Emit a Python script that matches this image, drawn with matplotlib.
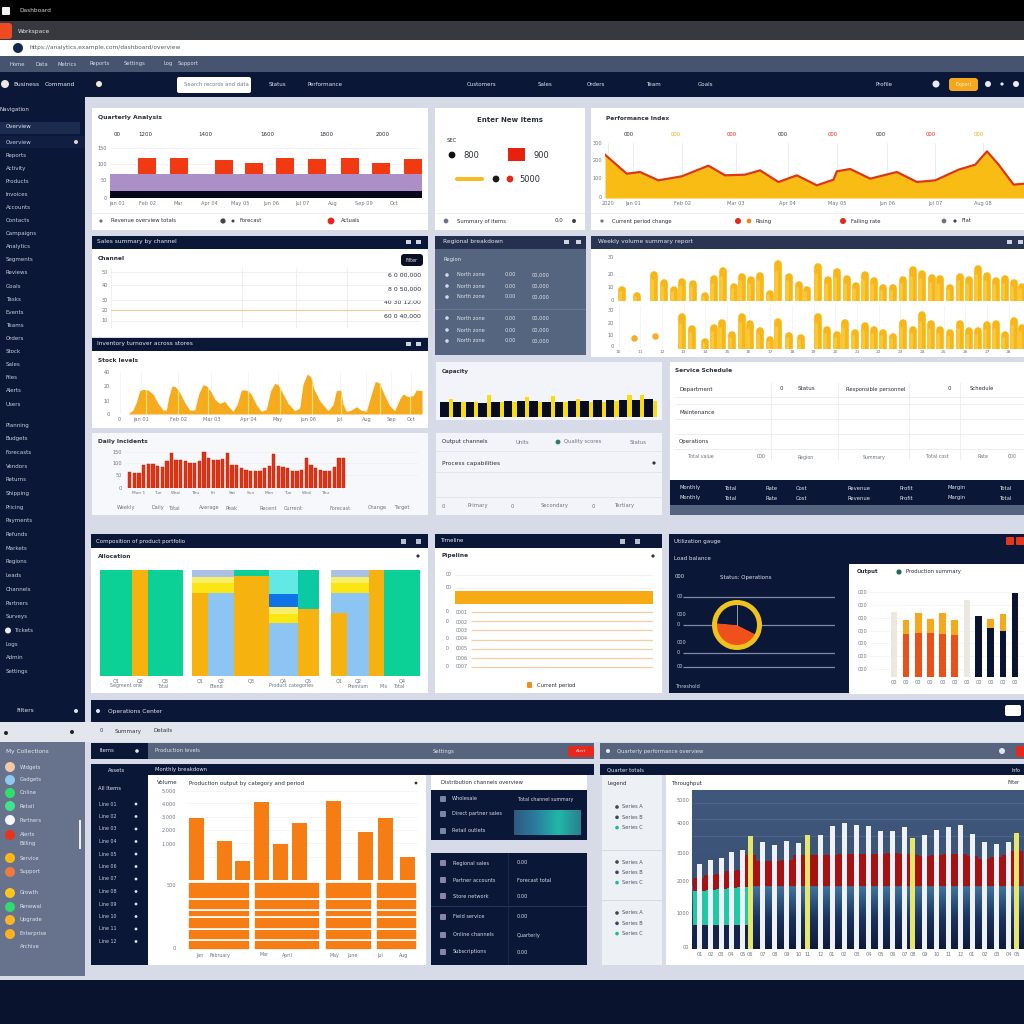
import numpy as np
import matplotlib
matplotlib.use("Agg")
import matplotlib.pyplot as plt
from matplotlib.patches import Rectangle, FancyBboxPatch, Circle
from matplotlib.colors import LinearSegmentedColormap

# --- data ---
top_x = [37, 69, 114, 144, 175, 207, 240, 271, 303]
top_red = [16, 16, 14, 11, 16, 15, 16, 11, 15]
top_black = 7
top_purple = 17
top_labels = ["Jan 01", "Feb 02", "Mar", "Apr 04", "May 05", "Jun 06", "Jul 07", "Aug", "Sep 09", "Oct"]

wave_x = [0, 65, 105, 160, 230, 310, 360, 420, 465, 520, 575, 635, 685, 695, 735, 795, 875, 935, 990, 1060, 1110, 1145, 1180, 1225, 1256]
wave_y = [130, 73, 78, 53, 65, 97, 68, 70, 83, 48, 68, 38, 55, 80, 87, 58, 78, 48, 53, 85, 100, 140, 100, 40, 43]
wave_ticks = [8, 85, 232, 392, 548, 695, 845, 990, 1133]
wave_labels = ["2020", "Jan 01", "Feb 02", "Mar 03", "Apr 04", "May 05", "Jun 06", "Jul 07", "Aug 08"]

gold1_x = [330, 375, 425, 457, 487, 511, 542, 580, 605, 632, 665, 690, 717, 745, 775, 798, 830, 862, 885, 918, 947, 976, 1004, 1033, 1058, 1086, 1114, 1142, 1172, 1204, 1229, 1260, 1285, 1315, 1343, 1370, 1398, 1424, 1452, 1480, 1507, 1530]
gold1_h = [30, 15, 72, 50, 30, 52, 47, 15, 60, 82, 40, 68, 58, 70, 20, 102, 68, 45, 30, 95, 58, 80, 60, 42, 72, 55, 36, 36, 58, 85, 75, 63, 60, 37, 68, 58, 90, 70, 55, 60, 50, 40]
gold2_x = [510, 541, 580, 605, 630, 660, 690, 714, 745, 775, 798, 830, 868, 918, 946, 975, 1000, 1030, 1058, 1086, 1114, 1142, 1172, 1204, 1229, 1258, 1285, 1315, 1343, 1370, 1398, 1424, 1452, 1480, 1507, 1530]
gold2_h = [90, 57, 20, 60, 75, 40, 92, 72, 50, 25, 78, 38, 32, 90, 55, 40, 75, 45, 65, 55, 45, 35, 75, 55, 97, 70, 55, 45, 70, 50, 50, 68, 70, 40, 80, 60]
blob_x = [365, 428]
blob_y = [32, 37]

flat_levels = [60, 46, 30, 19, 8]
flat_series = [19, 19, 19, 19, 19]

amber_x = [130, 145, 155, 165, 175, 190, 205, 220, 235, 245, 252, 262, 272, 285, 300, 315, 330, 342, 355, 365, 378, 392, 405, 420, 432, 445, 458, 470, 485, 498, 515, 530, 545, 558, 570, 580, 592, 610, 630, 645, 655, 668, 678, 688, 705, 730, 745, 755, 768, 775, 785, 800, 815, 828, 845, 860, 872, 885, 897, 915, 930, 945, 955, 970, 985, 995, 1012]
amber_y = [0, 12, 35, 70, 74, 72, 60, 32, 12, 12, 50, 84, 82, 65, 35, 12, 12, 60, 88, 85, 68, 42, 32, 38, 22, 8, 30, 72, 72, 62, 28, 8, 14, 70, 92, 88, 66, 32, 10, 18, 90, 120, 112, 75, 40, 10, 28, 70, 72, 30, 8, 12, 22, 12, 8, 60, 98, 92, 62, 25, 10, 45, 60, 52, 55, 72, 70]
amber_marks = [185, 280, 370, 490, 585, 683, 770, 885, 975]

red_h = [48, 45, 45, 68, 70, 70, 65, 62, 80, 105, 82, 82, 80, 75, 75, 80, 108, 88, 82, 82, 85, 105, 68, 68, 58, 55, 50, 50, 50, 58, 65, 100, 65, 62, 60, 52, 52, 55, 88, 68, 60, 55, 50, 50, 62, 90, 90]

black_h = [15, 15, 15, 14, 15, 16, 16, 16, 15, 15, 16, 16, 17, 17, 17, 17, 18]
yellow_h = [18, 15, 15, 22, 15, 15, 20, 15, 21, 15, 18, 15, 15, 16, 22, 22, 16]

mekko_w = [32, 16, 35, 9, 16, 26, 35, 29, 21, 12, 16, 22, 15, 36]
mekko_amber = [0, 318, 0, 0, 248, 0, 301, 0, 200, 0, 188, 0, 318, 0]
mekko_sky = [0, 0, 0, 0, 0, 248, 0, 158, 0, 0, 60, 248, 0, 0]
mekko_yellow = [0, 0, 0, 0, 30, 30, 0, 28, 0, 0, 30, 30, 0, 0]
mekko_pale = [0, 0, 0, 0, 20, 20, 0, 22, 0, 0, 20, 20, 0, 0]
mekko_blue = [0, 0, 0, 0, 0, 0, 0, 37, 0, 0, 0, 0, 0, 0]
mekko_cyan = [0, 0, 0, 0, 0, 0, 0, 73, 0, 0, 0, 0, 0, 0]
mekko_peri = [0, 0, 0, 0, 20, 20, 0, 0, 0, 0, 20, 20, 0, 0]
mekko_teal = [0, 0, 0, 0, 0, 0, 0, 0, 118, 0, 0, 0, 0, 0]
mekko_green = [318, 0, 318, 0, 0, 0, 17, 0, 0, 0, 0, 0, 0, 318]
mekko_labels = ["Q1", "Q2", "Q3", "", "Q1", "Q2", "Q3", "Q4", "Q5", "", "Q1", "Q2", "", "Q4"]

hbar_main = 100
hbar_rest = [100, 100, 100, 100, 100, 100, 100]
hbar_labels = ["0001", "0002", "0003", "0004", "0005", "0006", "0007"]

gauge_share = [44, 56]

col_pale = [195, 0, 0, 0, 0, 0, 230, 0, 0, 0, 0]
col_orange = [0, 128, 132, 132, 130, 125, 0, 0, 0, 0, 0]
col_navy = [0, 0, 0, 0, 0, 0, 0, 182, 147, 137, 250]
col_amber = [0, 42, 60, 40, 60, 45, 0, 0, 25, 52, 0]

orange_x = [333, 418, 472, 528, 585, 643, 747, 842, 902, 967]
orange_h = [187, 117, 58, 233, 107, 170, 237, 143, 187, 70]
block_left = [308, 508, 719, 873]
block_w = [188, 197, 142, 124]
block_rows = [29.5, 33.5, 33, 21.5, 32.5, 50]

col_x = [313, 345, 378, 408, 442, 465, 502, 539, 575, 611, 637, 675, 711, 747, 784, 820, 856, 892, 929, 952, 989, 1025, 1061, 1097, 1131, 1168, 1204, 1240, 1265]
col_h = [255, 267, 275, 291, 298, 340, 321, 312, 326, 320, 343, 343, 369, 378, 372, 369, 355, 356, 368, 335, 343, 358, 368, 374, 347, 322, 316, 322, 348]
col_marked = [5, 10, 19, 28]
band_top = [213, 221, 225, 235, 239, 283, 265, 265, 267, 283, 283, 283, 283, 285, 285, 285, 285, 288, 285, 283, 281, 283, 285, 285, 281, 271, 278, 283, 295]
teal_top = [173, 178, 181, 184, 186]
teal_base = 73

side_top = ["Overview", "Reports", "Activity", "Products", "Invoices", "Accounts", "Contacts", "Campaigns", "Analytics", "Segments", "Reviews", "Goals", "Tasks", "Events", "Teams", "Orders", "Stock", "Sales", "Files", "Alerts", "Users"]
side_low = ["Planning", "Budgets", "Forecasts", "Vendors", "Returns", "Shipping", "Pricing", "Payments", "Refunds", "Markets", "Regions", "Leads", "Channels", "Partners", "Surveys", "Tickets", "Logs", "Admin", "Settings"]
dot_colors = ["#f3c8a8", "#8ec8ee", "#2de06a", "#3fe58c", "#f4f6fa", "#e8341c", "#ffb712", "#f07a3a", "#ffc51a", "#30dc72", "#ffb428", "#ffb01e"]
dot_rows = [767, 780, 793, 806, 820, 835, 858, 872, 893, 907, 920, 934]
dot_names = ["Widgets", "Gadgets", "Online", "Retail", "Partners", "Alerts", "Service", "Support", "Growth", "Renewal", "Upgrade", "Enterprise"]

W, H = 1024, 1024
NAVY = "#0b1737"
SLATE = "#55657f"
BG = "#d6dbe7"
INK = "#2a2f3a"
GREY = "#6d7480"

fig = plt.figure(figsize=(W / 100, H / 100), dpi=100, facecolor=BG)
bg = fig.add_axes([0, 0, 1, 1], zorder=0)
bg.set_xlim(0, W)
bg.set_ylim(H, 0)
bg.axis("off")


def box(x0, y0, x1, y1, color):
    bg.add_patch(Rectangle((x0, y0), x1 - x0, y1 - y0, fc=color, ec="none"))


def pill(x0, y0, x1, y1, color, r=3):
    bg.add_patch(FancyBboxPatch((x0, y0), x1 - x0, y1 - y0, boxstyle=f"round,pad=0,rounding_size={r}", fc=color, ec="none"))


def dot(x, y, r, color):
    bg.add_patch(Circle((x, y), r, fc=color, ec="none"))


def t(x, y, s, color=INK, size=4.2, ha="left", weight="normal"):
    bg.text(x, y, s, color=color, fontsize=size, ha=ha, va="center", fontweight=weight)


def chart(x0, y0, x1, y1, zorder=2):
    ax = fig.add_axes([x0 / W, 1 - y1 / H, (x1 - x0) / W, (y1 - y0) / H], zorder=zorder)
    ax.patch.set_visible(False)
    for s in ax.spines.values():
        s.set_visible(False)
    ax.tick_params(length=0, labelsize=3.6, colors=GREY, pad=2)
    ax.set_xticks([])
    ax.set_yticks([])
    return ax


def soft_grid(ax, axis="y", color="#eceef2"):
    ax.grid(True, axis=axis, color=color, lw=0.5)
    ax.set_axisbelow(True)


# --- chrome ---
box(0, 0, W, 21, "#000000")
box(0, 21, W, 40, "#38393f")
box(0, 40, W, 56, "#ffffff")
box(0, 56, W, 72, "#47546f")
box(0, 72, W, 97, NAVY)
box(0, 72, 85, 700, NAVY)
box(0, 980, W, H, "#0a132e")
box(0, 700, 85, 722, NAVY)
box(0, 722, 85, 742, "#e3e6ec")
box(0, 742, 85, 976, "#67738c")
box(85, 722, W, 742, "#e3e6ec")

pill(2, 7, 10, 15, "#f2f2f2", 1)
t(19, 10, "Dashboard", "#d0d0d0", 4.2)
pill(-4, 23, 12, 39, "#ef4b22", 3)
t(18, 31, "Workspace", "#e4e4e4", 4.2)
dot(18, 48, 5, "#12294e")
t(30, 48, "https://analytics.example.com/dashboard/overview", "#555b66", 4.2)
for x, s in zip([9, 36, 58, 90, 124, 163, 178], ["Home", "Data", "Metrics", "Reports", "Settings", "Log", "Support"]):
    t(x, 64, s, "#d7dbe4", 3.8)
dot(5, 84, 4, "#f2e6e2")
t(13, 84.5, "Business", "#e6e9f0", 4.2)
t(45, 84.5, "Command", "#e6e9f0", 4.2)
dot(99, 84, 3, "#f4e8d8")
pill(177, 77, 251, 93, "#ffffff", 2)
t(184, 85, "Search records and data", "#767c88", 3.8)
for x, s in zip([269, 307, 467, 538, 587, 646, 698, 876], ["Status", "Performance", "Customers", "Sales", "Orders", "Team", "Goals", "Profile"]):
    t(x, 84.5, s, "#e2e6ee", 4.0)
pill(949, 78, 978, 91, "#f5a81c", 3)
t(963.5, 84.5, "Export", "#fff2d0", 3.6, ha="center")
for x, r in zip([936, 988, 1002, 1016], [3.5, 3, 1.6, 3]):
    dot(x, 84, r, "#e8ebf2")

t(0, 110, "Navigation", "#d6dbe6", 4.0)
box(0, 122, 80, 134, "#1c2c50")
t(6, 127, "Overview", "#e2e6ee", 4.0)
box(0, 136, 85, 148, "#101e42")
dot(76, 142, 2, "#e6d5cc")
for i, s in enumerate(side_top):
    t(6, 142 + i * 13.1, s, "#c8cedc", 4.0)
for i, s in enumerate(side_low):
    t(14 if s == "Tickets" else 6, 425 + i * 13.7, s, "#c8cedc", 4.0)
dot(8, 425 + 15 * 13.7, 3, "#e8ecf2")

t(16, 711, "Filters", "#dfe3ea", 4.2)
dot(76, 711, 2, "#dfe3ea")
dot(6, 733, 2, "#222")
dot(72, 732, 2, "#222")
t(6, 752, "My Collections", "#e6e9f0", 4.2)
for y, c, s in zip(dot_rows, dot_colors, dot_names):
    dot(10, y, 5, c)
    t(20, y, s, "#dfe3ea", 3.8)
t(20, 844, "Billing", "#dfe3ea", 3.8)
t(20, 946, "Archive", "#dfe3ea", 3.8)
box(79, 820, 81, 849, "#eef0f5")

# --- row 1 panels ---
box(92, 108, 428, 230, "#ffffff")
box(435, 108, 585, 230, "#ffffff")
box(591, 108, 1024, 230, "#ffffff")
box(92, 213, 428, 214, "#eceef2")
box(435, 213, 585, 214, "#eceef2")
box(591, 213, 1024, 214, "#eceef2")
t(98, 118, "Quarterly Analysis", INK, 4.4, weight="bold")
for x, s in zip([114, 138, 198, 260, 319, 376], ["00", "1200", "1400", "1600", "1800", "2000"]):
    t(x, 134, s, INK, 4.0)
dot(101, 221, 1.6, GREY)
t(111, 221, "Revenue overview totals", INK, 3.8)
dot(223, 221, 2.6, "#444")
dot(233, 221, 1.5, "#444")
t(240, 221, "Forecast", INK, 3.8)
dot(331, 221, 3.4, "#e8261c")
t(341, 221, "Actuals", INK, 3.8)
t(510, 120, "Enter New Items", INK, 5.0, ha="center", weight="bold")
t(447, 140, "SEC", INK, 3.8)
dot(452, 155, 3.4, "#111")
t(463, 155, "800", INK, 6.0)
box(508, 148, 525, 161, "#e8200e")
t(534, 155, "900", INK, 6.0)
pill(455, 177, 484, 181, "#f7bb23", 2)
dot(496, 179, 3.4, "#1b1b1b")
dot(510, 179, 3.4, "#e8261c")
t(519, 179, "5000", INK, 6.0)
dot(446, 221, 2.4, GREY)
t(457, 221, "Summary of items", INK, 3.8)
t(555, 221, "0.0", INK, 4.0)
dot(574, 221, 2, "#444")

t(606, 118, "Performance Index", INK, 4.2, weight="bold")
for x, s, c in zip([634, 681, 737, 788, 838, 886, 936, 984], ["000", "000", "000", "000", "000", "000", "000", "000"], [INK, "#f0a81c", "#e8261c", INK, "#e8261c", INK, "#e8261c", "#f0a81c"]):
    t(x - 10, 135, s, c, 3.8)
dot(602, 221, 1.6, GREY)
t(612, 221, "Current period change", INK, 3.8)
dot(738, 221, 3, "#e8261c")
dot(749, 221, 2.4, "#e68a1e")
t(756, 221, "Rising", INK, 3.8)
dot(843, 221, 3, "#e8261c")
t(851, 221, "Falling rate", INK, 3.8)
dot(944, 221, 2.4, GREY)
dot(955, 221, 1.6, "#444")
t(962, 221, "Flat", INK, 3.8)

ax = chart(110, 143, 422, 198)
ax.axhspan(0, top_black, color="#07081c", lw=0)
ax.axhspan(top_black, top_black + top_purple, color="#ad8fc8", lw=0)
ax.bar(top_x, top_red, bottom=top_black + top_purple, width=18, color="#f23a12")
ax.set_xlim(0, 312)
ax.set_ylim(0, 55)
ax.set_yticks([0, 18, 34, 50], ["0", "50", "100", "150"])
soft_grid(ax)
ax = chart(114, 198, 422, 208)
ax.set_xlim(0, 10)
ax.set_xticks(np.arange(10) + 0.1, top_labels)
ax.set_yticks([])
ax.xaxis.set_ticks_position("top")
ax.xaxis.set_label_position("top")
ax.tick_params(pad=-6)

ax = chart(605, 143, 1024, 198)
ax.fill_between(wave_x, wave_y, color="#f8bc14", lw=0)
ax.plot(wave_x, wave_y, color="#d9381a", lw=1.6)
ax.set_xlim(0, 1256)
ax.set_ylim(0, 165)
ax.set_xticks(wave_ticks, wave_labels)
ax.set_yticks([2, 60, 115, 165], ["0", "100", "200", "300"])
soft_grid(ax, "x", "#e4e6ea")

# --- row 2 panels ---
box(92, 236, 428, 249, NAVY)
box(92, 249, 428, 337, "#ffffff")
box(435, 236, 586, 249, "#25304f")
box(435, 249, 586, 355, SLATE)
box(591, 236, 1024, 249, "#2a3553")
box(591, 249, 1024, 357, "#ffffff")
t(97, 242, "Sales summary by channel", "#e8ebf2", 4.2)
for x in [408, 418]:
    box(x - 2, 240, x + 3, 244, "#cfd4df")
t(98, 258, "Channel", INK, 4.2, weight="bold")
pill(401, 254, 423, 266, "#0a0f24", 3)
t(412, 260, "Filter", "#e8ebf2", 3.4, ha="center")
for y, s in zip([275, 289, 302, 316], ["6 0 00,000", "8 0 50,000", "40 30 12,00", "60 0 40,000"]):
    t(421, y, s, INK, 4.4, ha="right")
ax = chart(111, 268, 420, 328)
ax.set_xlim(0, 4)
ax.set_ylim(0, 64)
ax.set_yticks(flat_levels, ["50", "40", "30", "20", "10"])
ax.set_xticks([0, 1.7, 2.4, 3.05], ["", "", "", ""])
ax.grid(True, color="#ecedf0", lw=0.6)
ax.plot(np.arange(5), flat_series, color="#f6c89a", lw=0.8)

t(443, 242, "Regional breakdown", "#e4e7ee", 4.2)
for x in [566, 578]:
    box(x - 2, 240, x + 3, 244, "#cfd4df")
t(443, 260, "Region", "#dfe3ea", 3.8)
for i, y in enumerate([275, 286, 297, 318, 330, 341]):
    dot(447, y, 1.8, "#d3d8e2")
    t(457, y, "North zone", "#dfe3ea", 3.6)
    t(505, y, "0.00", "#dfe3ea", 3.6)
    t(532, y, "00,000", "#dfe3ea", 3.6)
box(435, 309, 586, 310, "#6b7a94")

t(598, 242, "Weekly volume summary report", "#e4e7ee", 4.2)
for x in [1009, 1020]:
    box(x - 2, 240, x + 3, 244, "#cfd4df")
ax = chart(617, 256, 1024, 301)
ax.vlines(gold1_x, 0, gold1_h, colors="#f7b718", lw=5.5, capstyle="round")
ax.vlines(np.array(gold1_x) - 6, 0, np.array(gold1_h) * 0.8, colors="#f9c93a", lw=2, capstyle="round")
ax.set_xlim(315, 1536)
ax.set_ylim(0, 125)
ax.set_yticks([2, 40, 75, 122], ["0", "10", "20", "30"])
soft_grid(ax, "x", "#eff0f3")
ax = chart(617, 305, 1024, 349)
ax.vlines(gold2_x, 0, gold2_h, colors="#f7b718", lw=5.5, capstyle="round")
ax.vlines(np.array(gold2_x) - 6, 0, np.array(gold2_h) * 0.8, colors="#f9c93a", lw=2, capstyle="round")
ax.scatter(blob_x, blob_y, s=22, color="#f6ae22", lw=0)
ax.set_xlim(315, 1536)
ax.set_ylim(0, 125)
ax.set_yticks([8, 40, 75, 112], ["0", "10", "20", "30"])
ax.set_xticks(np.arange(320, 1530, 65), [str(v) for v in range(10, 29)])
ax.tick_params(axis="x", pad=1, labelsize=3.2)
soft_grid(ax, "x", "#eff0f3")

# --- row 3 panels ---
box(92, 338, 428, 351, NAVY)
box(92, 351, 428, 428, "#ffffff")
box(92, 433, 428, 515, "#f7f8fb")
t(97, 344, "Inventory turnover across stores", "#e8ebf2", 4.2)
for x in [408, 418]:
    box(x - 2, 342, x + 3, 346, "#cfd4df")
t(98, 360, "Stock levels", INK, 4.2, weight="bold")
ax = chart(113, 372, 422, 414)
ax.fill_between(amber_x, amber_y, color="#f6ab1e", lw=0)
ax.vlines(amber_marks, 0, np.interp(amber_marks, amber_x, amber_y), colors="#fde27a", lw=0.8)
ax.set_xlim(85, 1012)
ax.set_ylim(0, 126)
ax.set_xticks([105, 170, 280, 380, 490, 580, 670, 765, 845, 920, 980], ["0", "Jan 01", "Feb 02", "Mar 03", "Apr 04", "May", "Jun 06", "Jul", "Aug", "Sep", "Oct"])
ax.set_yticks([0, 40, 85, 126], ["0", "10", "20", "40"])
soft_grid(ax, "x", "#eff0f3")

t(98, 441, "Daily Incidents", INK, 4.2, weight="bold")
ax = chart(125, 450, 418, 488)
ax.bar(np.arange(len(red_h)), red_h, width=0.72, color="#df3414", edgecolor="#b4200f", lw=0.3)
ax.set_xlim(-1, 62)
ax.set_ylim(0, 113)
ax.set_yticks([0, 38, 75, 108], ["0", "50", "100", "150"])
ax.set_xticks(np.arange(2, 46, 4), ["Mon 1", "Tue", "Wed", "Thu", "Fri", "Sat", "Sun", "Mon", "Tue", "Wed", "Thu"], fontsize=3.2)
soft_grid(ax, "y")
for x, s in zip([117, 152, 168, 199, 225, 260, 284, 330, 368, 394], ["Weekly", "Daily", "Total", "Average", "Peak", "Recent", "Current", "Forecast", "Change", "Target"]):
    t(x, 508, s, GREY, 3.6)

box(436, 362, 662, 420, "#f2f4f9")
box(436, 433, 662, 515, "#f2f4f9")
box(436, 451, 662, 452, "#e2e5ec")
box(436, 472, 662, 473, "#e2e5ec")
box(436, 497, 662, 498, "#e2e5ec")
t(442, 371, "Capacity", INK, 4.0, weight="bold")
ax = chart(440, 385, 662, 417)
xs = np.arange(len(black_h))
ax.bar(xs + 0.34, yellow_h, width=0.34, color="#f8dc10")
ax.bar(xs - 0.16, black_h, width=0.66, color="#070c20")
ax.set_xlim(-0.5, len(black_h) - 0.1)
ax.set_ylim(0, 32)
t(442, 442, "Output channels", INK, 4.0)
t(516, 442, "Units", GREY, 3.8)
dot(558, 442, 2.4, "#2a7d62")
t(564, 442, "Quality scores", GREY, 3.8)
t(630, 442, "Status", GREY, 3.8)
t(442, 463, "Process capabilities", INK, 4.2)
dot(654, 463, 1.6, "#333")
for x, s in zip([442, 467, 511, 541, 592, 615], ["0", "Primary", "0", "Secondary", "0", "Tertiary"]):
    t(x, 506, s, GREY, 3.8)

box(670, 362, 1024, 480, "#ffffff")
box(670, 480, 1024, 505, NAVY)
box(670, 505, 1024, 515, "#55657f")
t(675, 371, "Service Schedule", INK, 4.2, weight="bold")
for x in [771, 838, 909, 960]:
    box(x, 383, x + 0.6, 460, "#eceef2")
for y in [397, 404, 419, 434, 449]:
    box(675, y, 1024, y + 0.6, "#eceef2")
t(679, 389, "Department", INK, 4.0)
t(780, 389, "0", INK, 4.0)
t(798, 389, "Status", INK, 4.0)
t(846, 389, "Responsible personnel", INK, 3.8)
t(948, 389, "0", INK, 4.0)
t(970, 389, "Schedule", INK, 3.8)
t(679, 413, "Maintenance", INK, 4.0)
t(679, 442, "Operations", INK, 4.0)
for x, s in zip([688, 757, 798, 863, 926, 978, 1008], ["Total value", "000", "Region", "Summary", "Total cost", "Rate", "000"]):
    t(x, 457, s, GREY, 3.4)
for x, s in zip([679, 725, 766, 796, 847, 900, 948, 1000], ["Monthly", "Total", "Rate", "Cost", "Revenue", "Profit", "Margin", "Total"]):
    t(x, 488, s, "#dfe3ea", 3.8)
    t(x, 498, s, "#dfe3ea", 3.8)

# --- row 4 panels ---
box(91, 534, 428, 548, NAVY)
box(91, 548, 428, 693, "#ffffff")
box(435, 534, 662, 548, NAVY)
box(435, 548, 662, 693, "#ffffff")
box(669, 534, 1024, 693, NAVY)
box(849, 564, 1024, 694, "#ffffff")
t(96, 541, "Composition of product portfolio", "#e8ebf2", 4.0)
t(440, 541, "Timeline", "#e8ebf2", 4.0)
t(98, 556, "Allocation", INK, 4.2, weight="bold")
t(442, 556, "Pipeline", INK, 4.2, weight="bold")
dot(418, 556, 1.6, "#333")
dot(653, 556, 1.6, "#333")
for x in [404, 419, 623, 638]:
    box(x - 3, 539, x + 2, 544, "#b8c0cf")

ax = chart(100, 570, 420, 676)
mekko_left = np.concatenate([[0], np.cumsum(mekko_w)[:-1]])
stack = np.zeros(len(mekko_w))
for vals, c in zip([mekko_amber, mekko_sky, mekko_yellow, mekko_pale, mekko_blue, mekko_cyan, mekko_peri, mekko_teal, mekko_green],
                   ["#f6b20e", "#8cc4f4", "#f9e612", "#f8ee6a", "#0f74e8", "#62e9e6", "#a9c1e4", "#0bc9a2", "#0bd196"]):
    ax.bar(mekko_left, vals, width=mekko_w, bottom=stack, align="edge", color=c, lw=0)
    stack += np.array(vals)
ax.set_xlim(0, sum(mekko_w))
ax.set_ylim(0, 318)
ax.set_xticks(mekko_left + np.array(mekko_w) / 2, mekko_labels)
for x, s in zip([110, 158, 210, 269, 348, 380, 394], ["Segment one", "Total", "Blend", "Product categories", "Premium", "Mix", "Total"]):
    t(x, 686, s, GREY, 3.4)

# one row of this axis is one row of the list below the amber bar
ax = chart(455, 560, 653, 672)
ax.barh([4.08], [hbar_main], height=1.4, color="#f6ab14")
ax.hlines(np.arange(len(hbar_rest)) + 5.65, 8, hbar_rest, colors="#f3cfa8", lw=0.9)
ax.hlines([1.63, 3.04], 0, 100, colors="#e8eaee", lw=0.5)
ax.set_xlim(0, 100)
ax.set_ylim(12.17, 0)
for y, s in zip([612, 622, 630, 639, 649, 658, 667], hbar_labels):
    t(456, y, s, GREY, 3.4)
for y, s in zip([575, 588, 612, 622, 639, 649, 667], ["00", "00", "0", "0", "0", "0", "0"]):
    t(446, y - 0.5, s, GREY, 3.4)
t(459, 597.5, "Active", "#fff1cf", 3.6)
pill(527, 682, 532, 688, "#ef8f1e", 1)
t(537, 685, "Current period", INK, 3.8)

t(674, 541, "Utilization gauge", "#dfe3ea", 4.0)
t(674, 559, "Load balance", "#dfe3ea", 4.0)
t(675, 577, "000", "#dfe3ea", 3.8)
t(720, 577, "Status: Operations", "#dfe3ea", 4.0)
pill(1006, 537, 1014, 545, "#e8341c", 1)
pill(1016, 537, 1026, 545, "#e8341c", 1)
lines = chart(683, 590, 835, 674)
lines.set_xlim(0, 1)
lines.set_ylim(0, 84)
lines.hlines([77, 49, 21, 7], 0, 1, colors="#7f8aa3", lw=0.9)
for y, s in zip([597, 625, 653, 667, 614, 642], ["00", "0", "0", "00", "000", "000"]):
    t(677, y, s, "#c8cedc", 3.6)
t(675, 687, "Threshold", "#c8cedc", 3.6)
ax = chart(712, 600, 762, 650, zorder=3)
ax.pie([1], radius=0.82, colors=[NAVY])
ax.pie(gauge_share, radius=0.82, colors=["#f0501a", NAVY], startangle=175)
ax.pie([1], radius=1.0, colors=["#f0c21e"], wedgeprops=dict(width=0.2))
ax.plot([0, 0], [0, 0.8], color="#c7cede", lw=0.5)
ax.set_xlim(-1, 1)
ax.set_ylim(-1, 1)

t(857, 572, "Output", INK, 4.0, weight="bold")
dot(899, 572, 2.6, "#1c6d54")
t(906, 572, "Production summary", INK, 3.8)
ax = chart(870, 580, 1024, 677)
cols = np.arange(len(col_pale))
ax.bar(cols, col_pale, width=0.5, color="#ebe8e2")
ax.bar(cols, col_orange, width=0.55, color="#e9511a")
ax.bar(cols, col_amber, width=0.55, bottom=np.array(col_orange) + np.array(col_navy), color="#f4a81c")
ax.bar(cols, col_navy, width=0.55, color="#0a1330")
ax.set_xlim(-1.98, 10.74)
ax.set_ylim(0, 290)
ax.set_yticks(np.arange(25, 270, 38), ["000"] * 7)
ax.set_xticks(cols, ["00", "00", "00", "00", "00", "00", "00", "00", "00", "00", "00"])
soft_grid(ax, "y", "#f0f1f4")

# --- bottom section ---
box(91, 700, W, 722, NAVY)
t(108, 711, "Operations Center", "#e2e6ee", 4.2)
dot(98, 711, 2, "#e2e6ee")
pill(1005, 705, 1021, 716, "#ffffff", 2)
t(100, 731, "0", "#333", 3.6)
t(115, 731, "Summary", "#333", 4.0)
t(154, 731, "Details", "#333", 4.0)

box(91, 743, 148, 759, NAVY)
box(148, 743, 594, 759, "#57647e")
box(91, 764, 594, 775, NAVY)
box(91, 775, 148, 965, NAVY)
box(148, 775, 426, 965, "#ffffff")
box(431, 775, 587, 790, "#ffffff")
box(431, 790, 587, 840, NAVY)
box(431, 853, 587, 965, NAVY)
pill(568, 746, 594, 757, "#e8281c", 3)
t(581, 751.5, "Alert", "#ffd6cc", 3.2, ha="center")
t(99, 751, "Items", "#dfe3ea", 3.8)
dot(137, 751, 1.8, "#dfe3ea")
t(155, 751, "Production levels", "#dfe3ea", 3.8)
t(433, 751, "Settings", "#dfe3ea", 3.8)
t(155, 770, "Monthly breakdown", "#e6e9f0", 3.8)
t(108, 770, "Assets", "#e6e9f0", 3.8)
t(98, 789, "All Items", "#dfe3ea", 3.8)
for i in range(12):
    t(99, 804 + i * 12.5, f"Line {i + 1:02d}", "#c8cedc", 3.4)
    dot(136, 804 + i * 12.5, 1.4, "#dfe3ea")
t(157, 783, "Volume", INK, 4.0)
t(189, 783, "Production output by category and period", INK, 4.0)
dot(416, 783, 1.4, "#333")
t(441, 783, "Distribution channels overview", INK, 3.8)

ax = chart(187, 791, 418, 880)
ax.bar(orange_x, orange_h, width=45, color="#f67c14")
ax.set_xlim(305, 1000)
ax.set_ylim(0, 267)
soft_grid(ax, "y", "#f1f2f4")
ax.set_yticks([70, 110, 150, 190, 230, 267], [" ", "1,000", "2,000", "3,000", "4,000", "5,000"])
ax.tick_params(axis="y", pad=8)
ax = chart(187, 882, 418, 950)
base = 0
for h in block_rows:
    ax.bar(block_left, [h] * 4, width=block_w, bottom=base, align="edge", color="#f67c14", edgecolor="#ffffff", lw=1.2)
    base += h
ax.set_xlim(305, 1000)
ax.set_ylim(0, 200)
ax.set_yticks([5, 190], ["0", "500"])
ax.tick_params(axis="y", pad=8)
for x, s in zip([196, 210, 260, 282, 330, 347, 377, 399], ["Jan", "February", "Mar", "April", "May", "June", "Jul", "Aug"]):
    t(x, 955, s, GREY, 3.4)

for y, s in zip([799, 814, 831], ["Wholesale", "Direct partner sales", "Retail outlets"]):
    pill(440, y - 3, 446, y + 3, "#7a86a6", 1)
    t(452, y, s, "#d6dbe6", 3.6)
t(518, 800, "Total channel summary", "#d6dbe6", 3.4)
teal_bar = chart(514, 810, 581, 835)
teal_bar.imshow(np.linspace(0, 1, 64).reshape(1, -1), aspect="auto",
                cmap=LinearSegmentedColormap.from_list("t", ["#2f5a80", "#2a7fa0", "#1fb8a8", "#2a8090"]))
t(520, 820, "Growth", "#e6eef2", 3.8)
for y, a, b in zip([863, 880, 896, 917, 935, 952], ["Regional sales", "Partner accounts", "Store network", "Field service", "Online channels", "Subscriptions"], ["0.00", "Forecast total", "0.00", "0.00", "Quarterly", "0.00"]):
    pill(440, y - 3, 446, y + 3, "#8a83ad", 1)
    t(453, y, a, "#d6dbe6", 3.6)
    t(517, y, b, "#d6dbe6", 3.6)
box(431, 906, 587, 906.6, "#2a3656")
box(508, 853, 508.6, 965, "#1c2848")

box(600, 743, W, 759, "#57647e")
box(600, 764, W, 775, NAVY)
box(602, 775, 662, 965, "#edf0f5")
box(666, 775, W, 965, "#ffffff")
dot(608, 751, 2, "#e6e9f0")
t(617, 751, "Quarterly performance overview", "#dfe3ea", 3.8)
dot(1002, 751, 3, "#dfe3ea")
pill(1016, 746, 1030, 757, "#e8281c", 3)
t(607, 770, "Quarter totals", "#e6e9f0", 3.8)
t(1012, 770, "Info", "#e6e9f0", 3.4)
t(608, 783, "Legend", INK, 3.8)
t(672, 783, "Throughput", INK, 3.8)
t(1008, 783, "Filter", INK, 3.4)
for y0 in [807, 862, 913]:
    for j, c in enumerate(["#444", "#3a4560", "#1bb89a"]):
        dot(617, y0 + j * 10.3, 1.8, c)
        t(622, y0 + j * 10.3, "Series " + "ABC"[j], "#4a5262", 3.6)
box(602, 850, 662, 850.6, "#d5d9e2")
box(602, 900, 662, 900.6, "#d5d9e2")

ax = chart(692, 790, W, 949)
grad = LinearSegmentedColormap.from_list("bar_bg", [(0, "#0d1a3a"), (0.2, "#1b3460"), (0.39, "#3f729e"), (0.4, "#3a5275"), (1, "#40587c")])
ax.imshow(np.linspace(0, 1, 256).reshape(-1, 1), aspect="auto", origin="lower", cmap=grad, extent=[290, 1287, 0, 478], zorder=0)
xs = np.array(col_x)
left = np.array(teal_top)
band_base = np.concatenate([left, np.full(len(col_x) - len(left), 190)])
ax.bar(xs[:5], [teal_base] * 5, width=37, color="#13234a", zorder=1)
ax.bar(xs[:5], left - teal_base, bottom=teal_base, width=37, color="#20c9a2", zorder=1)
ax.bar(xs, np.array(band_top) - band_base, bottom=band_base, width=37, color="#a61212", zorder=1)
colors = ["#e6e56c" if i in col_marked else "#eef2f8" for i in range(len(col_x))]
ax.bar(xs, col_h, width=15, color=colors, zorder=2)
ax.set_xlim(290, 1287)
ax.set_ylim(0, 478)
ax.set_yticks([6, 107, 205, 289, 379, 448], ["00", "1000", "2000", "3000", "4000", "5000"])
ax.set_xticks(xs, [f"{i % 12 + 1:02d}" for i in range(len(xs))])
ax.hlines([185, 340, 390, 440], 290, 1287, colors="#5a6f92", lw=0.4, zorder=0.5)

fig.savefig("out.png", dpi=100, facecolor=fig.get_facecolor())
